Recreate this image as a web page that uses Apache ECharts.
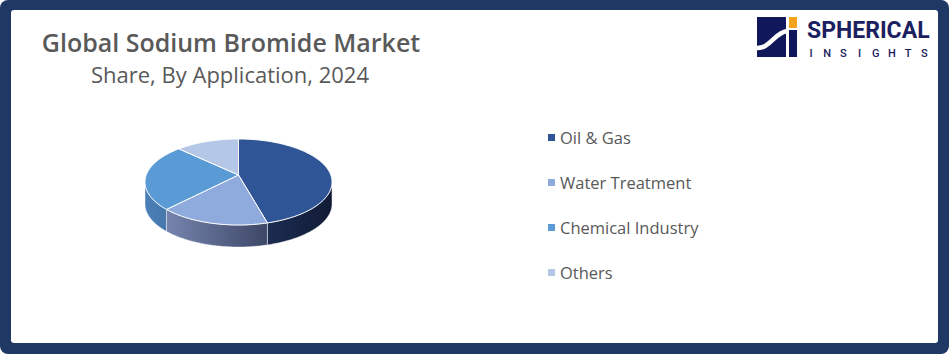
<!DOCTYPE html>
<html><head><meta charset="utf-8">
<script src="https://cdn.jsdelivr.net/npm/echarts@6/dist/echarts.min.js"></script>
<style>html,body{margin:0;padding:0;background:#fff;}#c{width:949px;height:354px;}</style>
</head><body><div id="c"></div>
<script>
const categories = ['Oil & Gas', 'Water Treatment', 'Chemical Industry', 'Others'];
const shares = [45, 19, 25, 11];
const titleText = 'Global Sodium Bromide Market';
const subtitleText = 'Share, By Application, 2024';
const logoWord = 'SPHERICAL';
const logoSub = 'INSIGHTS';

const topColors = ['#2F5597', '#8FAADC', '#5B9BD5', '#B4C7E7'];
const sideColors = [['#1C2C52', '#111B35'], ['#7685AE', '#3D4767'], ['#4A80B8', '#4677AC'], ['#8CA0C4', '#8CA0C4']];
const PIE = {cx: 238.5, cy: 182, rx: 93.5, ry: 43, depth: 22, apexDy: -7};
const total = shares.reduce((a, b) => a + b, 0);

function ell(a, dy) { return [PIE.cx + PIE.rx * Math.cos(a), PIE.cy + PIE.ry * Math.sin(a) + (dy || 0)]; }
function arcPts(a0, a1, dy) {
  const n = Math.max(2, Math.ceil((a1 - a0) / (Math.PI / 180)));
  const pts = [];
  for (let i = 0; i <= n; i++) pts.push(ell(a0 + (a1 - a0) * i / n, dy));
  return pts;
}
function renderSlice(params, api) {
  const k = params.seriesIndex;
  let cum = 0;
  for (let i = 0; i < k; i++) cum += shares[i];
  const a0 = -Math.PI / 2 + cum / total * 2 * Math.PI;
  const a1 = a0 + api.value(0) / total * 2 * Math.PI;
  const children = [];
  for (const off of [0, 2 * Math.PI]) {
    const b0 = Math.max(a0, off), b1 = Math.min(a1, off + Math.PI);
    if (b1 > b0) {
      const top = arcPts(b0, b1, 0), bot = arcPts(b0, b1, PIE.depth).reverse();
      children.push({
        type: 'polygon', shape: {points: top.concat(bot)},
        style: {
          fill: new echarts.graphic.LinearGradient(0, 0, 1, 0, [
            {offset: 0, color: sideColors[k][0]}, {offset: 1, color: sideColors[k][1]}]),
          stroke: 'rgba(255,255,255,0.55)', lineWidth: 0.8
        }
      });
    }
  }
  const topPts = [[PIE.cx, PIE.cy + PIE.apexDy]].concat(arcPts(a0, a1, 0));
  children.push({type: 'polygon', shape: {points: topPts}, style: {fill: topColors[k], stroke: '#ffffff', lineWidth: 1}});
  return {type: 'group', children};
}

const chart = echarts.init(document.getElementById('c'), null, {renderer: 'svg'});
const graphics = [
  {type: 'rect', z: -10, shape: {x: 0, y: 0, width: 949, height: 354, r: 8}, style: {fill: '#1F3864'}},
  {type: 'rect', z: -9, shape: {x: 11, y: 10, width: 927, height: 333, r: 3}, style: {fill: '#ffffff'}},
  {type: 'text', z: 50, x: 231, y: 42, style: {text: titleText, align: 'center', verticalAlign: 'middle', fill: '#595959', font: '600 25px "Open Sans"'}},
  {type: 'text', z: 50, x: 230, y: 74, style: {text: subtitleText, align: 'center', verticalAlign: 'middle', fill: '#595959', font: '22px "Open Sans"'}},
  // logo
  {type: 'rect', z: 50, shape: {x: 757, y: 17, width: 29, height: 40}, style: {fill: '#10175A'}},
  {type: 'bezierCurve', z: 51, shape: {x1: 756, y1: 48, x2: 787, y2: 31, cpx1: 770, cpy1: 49, cpx2: 774, cpy2: 33}, style: {stroke: '#ffffff', lineWidth: 4.5, fill: null}},
  {type: 'rect', z: 50, shape: {x: 789, y: 30, width: 8, height: 27}, style: {fill: '#10175A'}},
  {type: 'rect', z: 50, shape: {x: 789, y: 17, width: 8, height: 11}, style: {fill: '#F5A31A'}},
  {type: 'text', z: 50, x: 807, y: 30, style: {text: logoWord, align: 'left', verticalAlign: 'middle', fill: '#1B2160', font: 'bold 23px Roboto'}}
];
logoSub.split('').forEach((ch, i) => {
  graphics.push({type: 'text', z: 50, x: 811 + i * 16.2, y: 53, style: {text: ch, align: 'center', verticalAlign: 'middle', fill: '#1B2160', font: '500 11px Roboto'}});
});

chart.setOption({
  animation: false,
  graphic: graphics,
  legend: {
    orient: 'vertical', left: 548, top: 129, padding: 0, itemWidth: 7, itemHeight: 7, itemGap: 28,
    icon: 'rect', selectedMode: false,
    textStyle: {fontSize: 16.5, color: '#595959', fontFamily: 'Open Sans'},
    data: categories.map((c, i) => ({name: c, itemStyle: {color: topColors[i]}}))
  },
  series: categories.map((c, i) => ({
    type: 'custom', name: c, coordinateSystem: 'none',
    itemStyle: {color: topColors[i]},
    renderItem: renderSlice,
    data: [shares[i]]
  }))
});
</script></body></html>
